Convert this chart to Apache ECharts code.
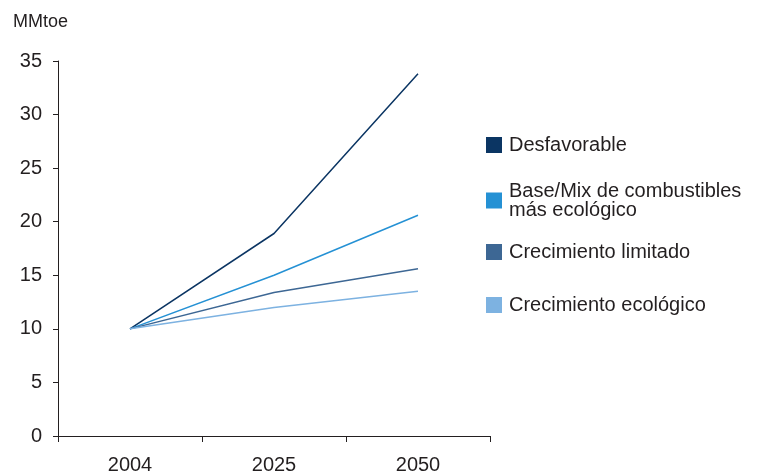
<!DOCTYPE html>
<html>
<head>
<meta charset="utf-8">
<script src="https://cdn.jsdelivr.net/npm/echarts@6/dist/echarts.min.js"></script>
<style>
  html, body { margin: 0; padding: 0; background: #fff; }
  #chart { width: 770px; height: 475px; }
</style>
</head>
<body>
<div id="chart"></div>
<script>
// Energy demand scenarios (MMtoe)
const years = ['2004', '2025', '2050'];
const seriesNames = [
  'Desfavorable',
  'Base/Mix de combustibles\nmás ecológico',
  'Crecimiento limitado',
  'Crecimiento ecológico'
];
const desfavorable = [10.0, 18.9, 33.8];
const baseMix = [10.0, 15.0, 20.6];
const crecimientoLimitado = [10.0, 13.4, 15.6];
const crecimientoEcologico = [10.0, 12.0, 13.5];
const seriesColors = ['#0b3563', '#2591d4', '#3d6794', '#7db2e1'];
const legendTops = [135, 181, 242, 295];

const values = [desfavorable, baseMix, crecimientoLimitado, crecimientoEcologico];
const textColor = '#231f20';
const fontFamily = 'Liberation Sans, Arial, Helvetica, sans-serif';

const chart = echarts.init(document.getElementById('chart'));

const legends = seriesNames.map((name, i) => ({
  data: [name],
  orient: 'vertical',
  left: 486,
  top: legendTops[i],
  padding: 0,
  icon: 'rect',
  itemWidth: 16,
  itemHeight: 16,
  selectedMode: false,
  textStyle: {
    color: textColor,
    fontSize: 20,
    lineHeight: 19,
    fontFamily: fontFamily,
    padding: [0, 0, 0, 2]
  }
}));

chart.setOption({
  animation: false,
  backgroundColor: '#fff',
  title: {
    text: 'MMtoe',
    left: 13,
    top: 8,
    padding: [5, 5, 5, 0],
    textStyle: { color: textColor, fontSize: 18, fontWeight: 'normal', fontFamily: fontFamily }
  },
  legend: legends,
  grid: { left: 58, top: 61, right: 280, bottom: 38, containLabel: false },
  xAxis: {
    type: 'category',
    data: years,
    boundaryGap: true,
    axisLine: { lineStyle: { color: '#231f20', width: 1 } },
    axisTick: { show: true, length: 6, alignWithLabel: false, lineStyle: { color: '#231f20' } },
    axisLabel: { color: textColor, fontSize: 20, margin: 19, fontFamily: fontFamily },
    splitLine: { show: false }
  },
  yAxis: {
    type: 'value',
    min: 0,
    max: 35,
    interval: 5,
    axisLine: { show: true, lineStyle: { color: '#231f20', width: 1 } },
    axisTick: { show: true, length: 5, lineStyle: { color: '#231f20' } },
    axisLabel: { color: textColor, fontSize: 20, margin: 16, fontFamily: fontFamily },
    splitLine: { show: false }
  },
  series: seriesNames.map((name, i) => ({
    name: name,
    type: 'line',
    data: values[i],
    symbol: 'none',
    color: seriesColors[i],
    lineStyle: { width: 1.5, color: seriesColors[i] }
  }))
});
</script>
</body>
</html>
